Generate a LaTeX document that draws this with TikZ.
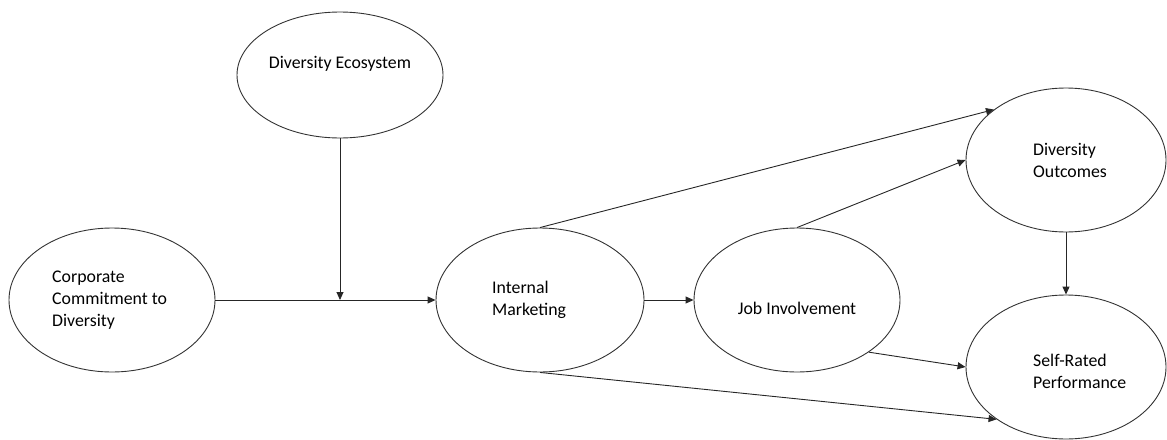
\documentclass[tikz,border=0pt]{standalone}
\usepackage{fontspec}
\setmainfont{Carlito}
\usetikzlibrary{shapes.geometric,arrows.meta}

\begin{document}
\begin{tikzpicture}[x=1pt,y=-1pt,
  construct/.style={draw=black!80,line width=0.9pt,ellipse,inner sep=0pt,minimum width=206pt,minimum height=144pt},
  nametext/.style={inner sep=0pt,align=left,font=\fontsize{17.8}{22}\selectfont},
  link/.style={draw=black!85,line width=0.9pt,-{Triangle[length=8pt,width=7pt]}}]
% Frame of the picture
\useasboundingbox (0,0) rectangle (1167,439);

% Constructs
\node[construct,minimum height=126pt] (eco) at (340,75) {};
\node[construct] (ccd) at (112,300) {};
\node[construct,minimum width=208pt] (im) at (540,300) {};
\node[construct] (ji) at (797,300) {};
\node[construct,minimum width=200pt] (do) at (1066,160) {};
\node[construct,minimum width=200pt] (srp) at (1066,367) {};

% Texts inside the constructs
\node[nametext,yshift=11pt] (ecotext) at (eco.center) {Diversity Ecosystem};
\node[nametext,anchor=west,xshift=-60pt] (ccdtext) at (ccd.center) {Corporate\\Commitment to\\Diversity};
\node[nametext,anchor=west,xshift=-48pt] (imtext) at (im.center) {Internal\\Marketing};
\node[nametext,yshift=-8pt] (jitext) at (ji.center) {Job Involvement};
\node[nametext,anchor=west,xshift=-33pt] (dotext) at (do.center) {Diversity\\Outcomes};
\node[nametext,anchor=west,xshift=-33pt,yshift=-4pt] (srptext) at (srp.center) {Self-Rated\\Performance};

% Moderator meets the path
\coordinate (mod) at (eco.south |- ccd.east);

% Paths
\draw[link] (eco.south) -- (mod);
\draw[link] (ccd.east) -- (im.west);
\draw[link] (im.east) -- (ji.west);
\draw[link] (im.north) -- (do.145);
\draw[link] (ji.north) -- (do.180);
\draw[link] (ji.-36) -- (srp.west);
\draw[link] (im.south) -- (srp.217);
\draw[link] (do.south) -- (srp.north);
\end{tikzpicture}
\end{document}
